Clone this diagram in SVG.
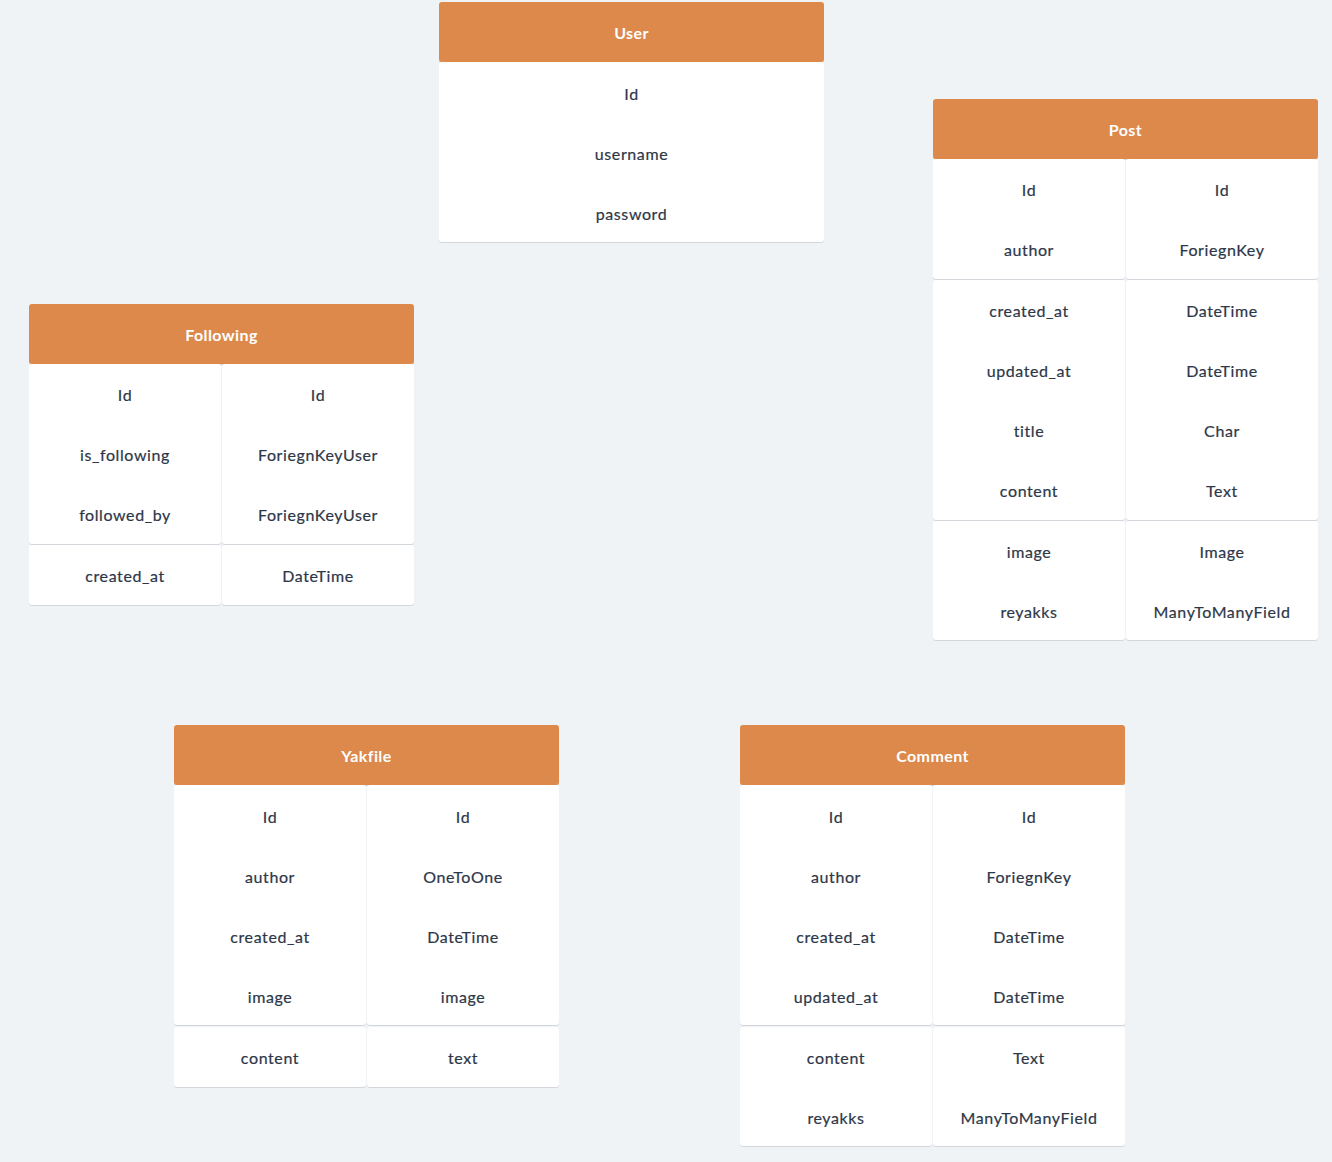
<svg xmlns="http://www.w3.org/2000/svg" width="1332" height="1162" viewBox="0 0 1332 1162">
<defs>
<style>
.bg{fill:#f0f3f6}
.hd{fill:#dc894b}
.cell{fill:#ffffff}
.sh{fill:#d3d7dc}
.ht{font-family:"Lato","Liberation Sans",sans-serif;font-size:16px;font-weight:bold;fill:#ffffff;text-anchor:middle;dominant-baseline:central;letter-spacing:0.4px}
.t{font-family:"Lato","Liberation Sans",sans-serif;font-size:16px;fill:#2d3748;text-anchor:middle;dominant-baseline:central;letter-spacing:0.6px;stroke:#2d3748;stroke-width:0.2px}
</style>
</defs>
<rect class="bg" x="0" y="0" width="1332" height="1162"/>
<g id="connectors"></g>

<g id="user">
<rect class="sh" x="439" y="3" width="385" height="60" rx="3"/>
<rect class="hd" x="439" y="2" width="385" height="60" rx="3"/>
<rect class="sh" x="439" y="63" width="385" height="180" rx="3"/>
<rect class="cell" x="439" y="62" width="385" height="180" rx="3"/>
<text class="ht" x="631.5" y="32">User</text>
<text class="t" x="631.5" y="93">Id</text>
<text class="t" x="631.5" y="153">username</text>
<text class="t" x="631.5" y="213">password</text>
</g>

<g id="post">
<rect class="sh" x="933" y="100" width="385" height="60" rx="3"/>
<rect class="hd" x="933" y="99" width="385" height="60" rx="3"/>
<rect class="sh" x="933" y="160" width="192" height="120" rx="3"/>
<rect class="cell" x="933" y="159" width="192" height="120" rx="3"/>
<rect class="sh" x="1126" y="160" width="192" height="120" rx="3"/>
<rect class="cell" x="1126" y="159" width="192" height="120" rx="3"/>
<rect class="sh" x="933" y="281" width="192" height="240" rx="3"/>
<rect class="cell" x="933" y="280" width="192" height="240" rx="3"/>
<rect class="sh" x="1126" y="281" width="192" height="240" rx="3"/>
<rect class="cell" x="1126" y="280" width="192" height="240" rx="3"/>
<rect class="sh" x="933" y="522" width="192" height="119" rx="3"/>
<rect class="cell" x="933" y="521" width="192" height="119" rx="3"/>
<rect class="sh" x="1126" y="522" width="192" height="119" rx="3"/>
<rect class="cell" x="1126" y="521" width="192" height="119" rx="3"/>
<text class="ht" x="1125.5" y="129">Post</text>
<text class="t" x="1029" y="189">Id</text><text class="t" x="1222" y="189">Id</text>
<text class="t" x="1029" y="249">author</text><text class="t" x="1222" y="249">ForiegnKey</text>
<text class="t" x="1029" y="310">created_at</text><text class="t" x="1222" y="310">DateTime</text>
<text class="t" x="1029" y="370">updated_at</text><text class="t" x="1222" y="370">DateTime</text>
<text class="t" x="1029" y="430">title</text><text class="t" x="1222" y="430">Char</text>
<text class="t" x="1029" y="490">content</text><text class="t" x="1222" y="490">Text</text>
<text class="t" x="1029" y="551">image</text><text class="t" x="1222" y="551">Image</text>
<text class="t" x="1029" y="611">reyakks</text><text class="t" x="1222" y="611">ManyToManyField</text>
</g>

<g id="following">
<rect class="sh" x="29" y="305" width="385" height="60" rx="3"/>
<rect class="hd" x="29" y="304" width="385" height="60" rx="3"/>
<rect class="sh" x="29" y="365" width="192" height="180" rx="3"/>
<rect class="cell" x="29" y="364" width="192" height="180" rx="3"/>
<rect class="sh" x="222" y="365" width="192" height="180" rx="3"/>
<rect class="cell" x="222" y="364" width="192" height="180" rx="3"/>
<rect class="sh" x="29" y="546" width="192" height="60" rx="3"/>
<rect class="cell" x="29" y="545" width="192" height="60" rx="3"/>
<rect class="sh" x="222" y="546" width="192" height="60" rx="3"/>
<rect class="cell" x="222" y="545" width="192" height="60" rx="3"/>
<text class="ht" x="221.5" y="334">Following</text>
<text class="t" x="125" y="394">Id</text><text class="t" x="318" y="394">Id</text>
<text class="t" x="125" y="454">is_following</text><text class="t" x="318" y="454">ForiegnKeyUser</text>
<text class="t" x="125" y="514">followed_by</text><text class="t" x="318" y="514">ForiegnKeyUser</text>
<text class="t" x="125" y="575">created_at</text><text class="t" x="318" y="575">DateTime</text>
</g>

<g id="yakfile">
<rect class="sh" x="174" y="726" width="385" height="60" rx="3"/>
<rect class="hd" x="174" y="725" width="385" height="60" rx="3"/>
<rect class="sh" x="174" y="786" width="192" height="240" rx="3"/>
<rect class="cell" x="174" y="785" width="192" height="240" rx="3"/>
<rect class="sh" x="367" y="786" width="192" height="240" rx="3"/>
<rect class="cell" x="367" y="785" width="192" height="240" rx="3"/>
<rect class="sh" x="174" y="1028" width="192" height="60" rx="3"/>
<rect class="cell" x="174" y="1027" width="192" height="60" rx="3"/>
<rect class="sh" x="367" y="1028" width="192" height="60" rx="3"/>
<rect class="cell" x="367" y="1027" width="192" height="60" rx="3"/>
<text class="ht" x="366.5" y="755">Yakfile</text>
<text class="t" x="270" y="816">Id</text><text class="t" x="463" y="816">Id</text>
<text class="t" x="270" y="876">author</text><text class="t" x="463" y="876">OneToOne</text>
<text class="t" x="270" y="936">created_at</text><text class="t" x="463" y="936">DateTime</text>
<text class="t" x="270" y="996">image</text><text class="t" x="463" y="996">image</text>
<text class="t" x="270" y="1057">content</text><text class="t" x="463" y="1057">text</text>
</g>

<g id="comment">
<rect class="sh" x="740" y="726" width="385" height="60" rx="3"/>
<rect class="hd" x="740" y="725" width="385" height="60" rx="3"/>
<rect class="sh" x="740" y="786" width="192" height="240" rx="3"/>
<rect class="cell" x="740" y="785" width="192" height="240" rx="3"/>
<rect class="sh" x="933" y="786" width="192" height="240" rx="3"/>
<rect class="cell" x="933" y="785" width="192" height="240" rx="3"/>
<rect class="sh" x="740" y="1028" width="192" height="119" rx="3"/>
<rect class="cell" x="740" y="1027" width="192" height="119" rx="3"/>
<rect class="sh" x="933" y="1028" width="192" height="119" rx="3"/>
<rect class="cell" x="933" y="1027" width="192" height="119" rx="3"/>
<text class="ht" x="932.5" y="755">Comment</text>
<text class="t" x="836" y="816">Id</text><text class="t" x="1029" y="816">Id</text>
<text class="t" x="836" y="876">author</text><text class="t" x="1029" y="876">ForiegnKey</text>
<text class="t" x="836" y="936">created_at</text><text class="t" x="1029" y="936">DateTime</text>
<text class="t" x="836" y="996">updated_at</text><text class="t" x="1029" y="996">DateTime</text>
<text class="t" x="836" y="1057">content</text><text class="t" x="1029" y="1057">Text</text>
<text class="t" x="836" y="1117">reyakks</text><text class="t" x="1029" y="1117">ManyToManyField</text>
</g>
</svg>
